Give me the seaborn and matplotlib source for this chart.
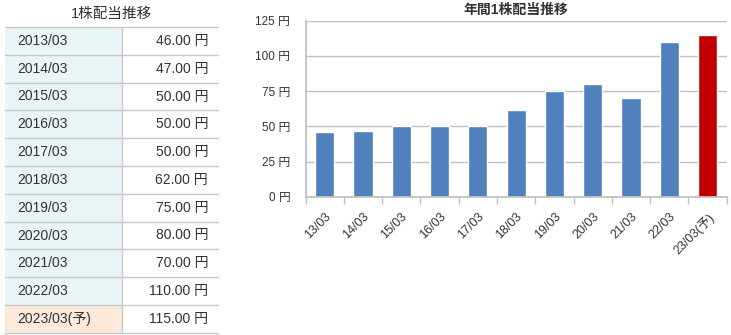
import numpy as np
import pandas as pd
import matplotlib
matplotlib.use("Agg")
import matplotlib.pyplot as plt
from matplotlib.patches import Rectangle
import seaborn as sns

# ---- data ----
table_years = ["2013/03", "2014/03", "2015/03", "2016/03", "2017/03", "2018/03",
               "2019/03", "2020/03", "2021/03", "2022/03", "2023/03(予)"]
dividends = [46.0, 47.0, 50.0, 50.0, 50.0, 62.0, 75.0, 80.0, 70.0, 110.0, 115.0]
bar_labels = ["13/03", "14/03", "15/03", "16/03", "17/03", "18/03",
              "19/03", "20/03", "21/03", "22/03", "23/03(予)"]
is_forecast = [False] * 10 + [True]
y_ticks = [0, 25, 50, 75, 100, 125]

sns.set_theme(style="white")
plt.rcParams['font.family'] = ['Liberation Sans', 'Noto Sans CJK JP', 'DejaVu Sans']

W, H = 731, 335
fig = plt.figure(figsize=(W / 100, H / 100), dpi=100)
txt_c = "#333333"

# ---- table (pixel coordinate overlay) ----
axt = fig.add_axes([0, 0, 1, 1])
axt.set_xlim(0, W)
axt.set_ylim(H, 0)
axt.axis("off")
axt.text(112, 14, "1株配当推移", ha="center", va="center", fontsize=10.5, color=txt_c)
top, rh = 27.0, 27.8
x0, xm, x1 = 5, 122, 218
line_c = "#C8C8C8"
for i, (yr, v) in enumerate(zip(table_years, dividends)):
    y = top + i * rh
    fc = "#FDE9DA" if is_forecast[i] else "#EAF5F7"
    axt.add_patch(Rectangle((x0, y), xm - x0, rh, facecolor=fc, edgecolor="none"))
    axt.text(x0 + 12, y + rh / 2, yr, ha="left", va="center", fontsize=10, color=txt_c)
    axt.text(x1 - 10, y + rh / 2, f"{v:.2f} 円", ha="right", va="center", fontsize=10,
             color=txt_c)
for i in range(len(table_years) + 1):
    y = top + i * rh
    axt.plot([x0, x1], [y, y], color=line_c, lw=1)
axt.plot([xm, xm], [top, top + rh * len(table_years)], color=line_c, lw=1)

# ---- bar chart ----
ax = fig.add_axes([305.5 / W, 1 - 197 / H, (726.7 - 305.5) / W, (197 - 20.7) / H])
df = pd.DataFrame({"label": bar_labels, "value": dividends,
                   "kind": ["予" if f else "実" for f in is_forecast]})
sns.barplot(data=df, x="label", y="value", hue="kind",
            palette={"実": "#4F81BD", "予": "#C00000"}, width=0.5,
            dodge=False, legend=False, ax=ax, saturation=1)
ax.set_xlim(-0.5, len(bar_labels) - 0.5)
ax.set_ylim(0, 125)
ax.set_yticks(y_ticks)
ax.set_yticklabels([f"{t} 円" for t in y_ticks], fontsize=8.5, color=txt_c)
ax.yaxis.grid(True, color="#C0C0C0", lw=1)
ax.set_axisbelow(True)
ax.set_xlabel("")
ax.set_ylabel("")
ax.set_xticks(range(len(bar_labels)))
ax.set_xticklabels(bar_labels, rotation=45, ha="right", rotation_mode="anchor",
                   fontsize=9, color=txt_c)
ax.set_xticks(np.arange(-0.5, len(bar_labels), 1), minor=True)
ax.tick_params(axis="x", which="major", length=0, pad=10)
ax.tick_params(axis="x", which="minor", length=5, color="#C0C0C0", width=1, bottom=True)
ax.tick_params(axis="y", length=0, pad=11)
for s in ["top", "right"]:
    ax.spines[s].set_visible(False)
ax.spines["left"].set_color("#C0C0C0")
ax.spines["bottom"].set_color("#C0C0C0")
ax.set_title("年間1株配当推移", fontsize=10, fontweight="bold", color=txt_c, pad=5)

fig.savefig("out.png", dpi=100)
